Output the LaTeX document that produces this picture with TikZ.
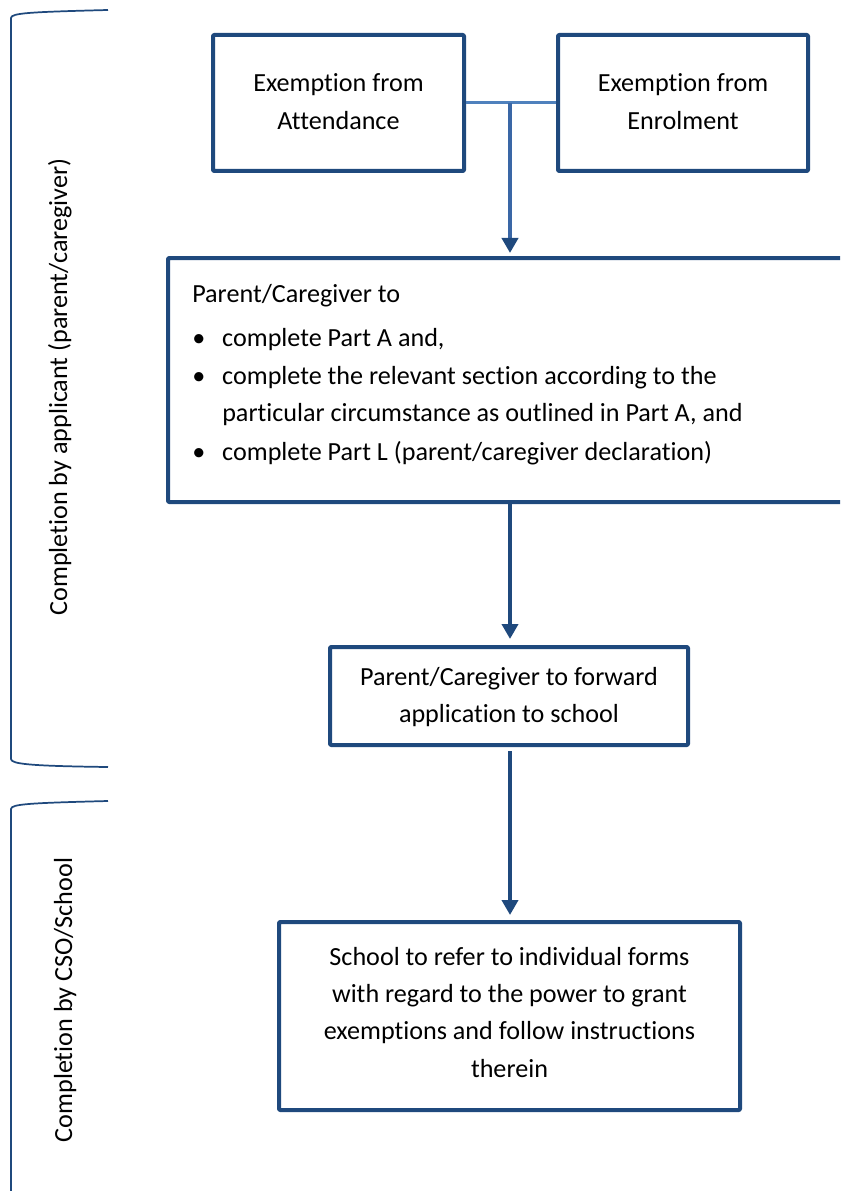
\documentclass[tikz,border=0pt]{standalone}
\usepackage{fontspec}
\setmainfont{Carlito}[Ligatures={NoCommon,NoContextual}]
\usetikzlibrary{arrows.meta,fit}
\definecolor{dk}{RGB}{31,73,125}
\definecolor{lt}{RGB}{79,129,189}
\definecolor{md}{RGB}{58,103,166}
\begin{document}
\begin{tikzpicture}[x=0.75pt,y=-0.75pt,
  box/.style={draw=dk, line width=3pt, inner sep=0pt, line join=round, rounded corners=0.75pt},
  txt/.style={font=\fontsize{19.6pt}{28.1pt}\selectfont, inner sep=0pt, anchor=base},
  arr/.style={draw=dk, line width=3.4pt, -{Triangle[length=11.25pt,width=12pt,color=dk]}},
  brace/.style={draw=dk, line width=1.3pt}]
\useasboundingbox (0,0) rectangle (840,1191);
\clip (0,0) rectangle (840,1191);

% boxes
\node[box, fit={(213,35) (464,171)}] (b1) {};
\node[box, fit={(558,35) (808,171)}] (b2) {};
\node[box, fit={(168,258) (870,502)}] (b3) {};
\node[box, fit={(330,647) (688,745)}] (b4) {};
\node[box, fit={(279,922) (740,1110)}] (b5) {};

% texts
\node[txt] (t1) at (338.5,92) {\begin{tabular}[t]{@{}c@{}}Exemption from\\Attendance\end{tabular}};
\node[txt] (t2) at (683,92) {\begin{tabular}[t]{@{}c@{}}Exemption from\\Enrolment\end{tabular}};
\node[txt, anchor=base west] (t3) at (192,302) {\begin{tabular}[t]{@{}l@{}}
Parent/Caregiver to\\[5pt]
\makebox[22.5pt][l]{\textbullet}complete Part A and,\\[0.5pt]
\makebox[22.5pt][l]{\textbullet}complete the relevant section according to the\\
\hspace*{22.5pt}particular circumstance as outlined in Part A, and\\[1pt]
\makebox[22.5pt][l]{\textbullet}complete Part L (parent/caregiver declaration)
\end{tabular}};
\node[txt] (t4) at (509,685) {\begin{tabular}[t]{@{}c@{}}Parent/Caregiver to forward\\application to school\end{tabular}};
\node[txt] (t5) at (509.5,965) {\begin{tabular}[t]{@{}c@{}}School to refer to individual forms\\with regard to the power to grant\\exemptions and follow instructions\\therein\end{tabular}};

% connectors
\coordinate (j) at (510,103);
\draw[draw=lt, line width=2.25pt] (b1.east) -- (b2.west);
\draw[arr, draw=md, line width=3pt, shorten >=2.25pt] (j) -- (j |- b3.north);
\draw[arr, shorten >=4.5pt] (b3.south -| j) -- (b4.north -| j);
\draw[arr, shorten <=3pt, shorten >=3.75pt] (b4.south -| j) -- (b5.north -| j);

% brackets
\draw[brace] (108,10) .. controls (30,12) and (11,13) .. (11,18) -- (11,759) .. controls (11,764) and (30,766) .. (108,767);
\draw[brace] (108,801) .. controls (30,803) and (11,804) .. (11,809) -- (11,1200);

% side labels
\node[txt, rotate=90] (l1) at (67,387) {Completion by applicant (parent/caregiver)};
\node[txt, rotate=90] (l2) at (72,1000) {Completion by CSO/School};
\end{tikzpicture}
\end{document}
